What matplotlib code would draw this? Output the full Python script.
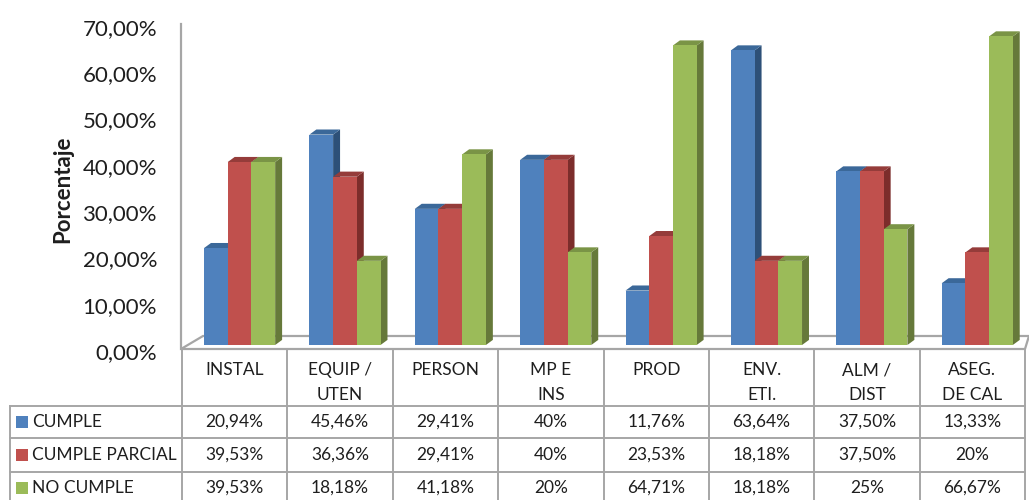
import matplotlib.pyplot as plt
from matplotlib.patches import Polygon, Rectangle
from matplotlib.transforms import ScaledTranslation

plt.rcParams['font.family'] = ['Lato', 'DejaVu Sans']

categories = ['INSTAL', 'EQUIP /\nUTEN', 'PERSON', 'MP E\nINS', 'PROD',
              'ENV.\nETI.', 'ALM /\nDIST', 'ASEG.\nDE CAL']
series = ['CUMPLE', 'CUMPLE PARCIAL', 'NO CUMPLE']
cumple = [20.94, 45.46, 29.41, 40, 11.76, 63.64, 37.50, 13.33]
cumple_parcial = [39.53, 36.36, 29.41, 40, 23.53, 18.18, 37.50, 20]
no_cumple = [39.53, 18.18, 41.18, 20, 64.71, 18.18, 25, 66.67]
values = [cumple, cumple_parcial, no_cumple]

# front / top / side shades for the pseudo-3D columns
front = ['#4F81BD', '#C0504D', '#9BBB59']
top = ['#3B6899', '#953C3A', '#7A9446']
side = ['#2D5078', '#7C2D2B', '#66793A']


def fmt(v):
    if v == int(v):
        return f'{int(v)}%'
    return f'{v:.2f}'.replace('.', ',') + '%'


W, H = 1029, 500
fig = plt.figure(figsize=(W / 100, H / 100), dpi=100)

# background layer in pixel units: floor and data table grid
bg = fig.add_axes([0, 0, 1, 1])
bg.set_xlim(0, W)
bg.set_ylim(H, 0)
bg.axis('off')

grid = '#A6A6A6'
x0, x1 = 182, 1025
colw = (x1 - x0) / len(categories)

floor = Polygon([(181, 349), (x1, 349), (1029, 336), (203, 336)],
                closed=True, facecolor='white', edgecolor=grid, lw=1.6)
bg.add_patch(floor)
bg.plot([181, 181], [24, 349], color=grid, lw=1.6)

# table lines
for i in range(len(categories) + 1):
    bg.plot([x0 + i * colw] * 2, [349, H], color=grid, lw=1.4)
bg.plot([10, 10], [406, H], color=grid, lw=1.4)
for yy in [406, 438, 472]:
    bg.plot([10, x1], [yy, yy], color=grid, lw=1.4)

txt = '#1E1E1E'
for i, cat in enumerate(categories):
    cx = x0 + (i + 0.5) * colw
    for k, line in enumerate(cat.split('\n')):
        bg.text(cx, 370 + k * 25, line, ha='center', va='center',
                fontsize=12.5, color=txt)

row_y = [422, 455, 488]
for s, name in enumerate(series):
    y = row_y[s]
    bg.add_patch(Rectangle((16, y - 6), 12, 12, facecolor=front[s], edgecolor='none'))
    bg.text(32, y, name, ha='left', va='center', fontsize=12.5, color=txt)
    for i, v in enumerate(values[s]):
        bg.text(x0 + (i + 0.5) * colw, y, fmt(v), ha='center', va='center',
                fontsize=12.5, color=txt)

bg.text(63, 189, 'Porcentaje', rotation=90, ha='center', va='center',
        fontsize=16, fontweight='bold', color=txt)

# chart layer in data units
ax = fig.add_axes([x0 / W, (H - 345) / H, (x1 - x0) / W, 324 / H])
ax.set_xlim(0, len(categories))
ax.set_ylim(0, 70)
ax.patch.set_alpha(0)
for sp in ax.spines.values():
    sp.set_visible(False)
ax.set_xticks([])
ax.set_yticks(range(0, 71, 10))
ax.set_yticklabels([f'{t},00%' for t in range(0, 71, 10)], fontsize=16, color=txt)
ax.tick_params(axis='y', length=0, pad=18)
for lab in ax.get_yticklabels():
    lab.set_transform(lab.get_transform() + ScaledTranslation(0, -6 / 100, fig.dpi_scale_trans))

bw = 0.225
start = 0.209
dx, dy = 0.066, 1.1

for i in range(len(categories)):
    for s in range(len(series)):
        h = values[s][i]
        l = i + start + s * bw
        r = l + bw
        ax.add_patch(Polygon([(r, 0), (r, h), (r + dx, h + dy), (r + dx, dy)],
                             closed=True, facecolor=side[s], edgecolor='none', clip_on=False))
        ax.add_patch(Polygon([(l, h), (r, h), (r + dx, h + dy), (l + dx, h + dy)],
                             closed=True, facecolor=top[s], edgecolor='none', clip_on=False))
        ax.bar(l, h, width=bw, align='edge', color=front[s], edgecolor='none', clip_on=False)

fig.savefig('out.png', dpi=100)
